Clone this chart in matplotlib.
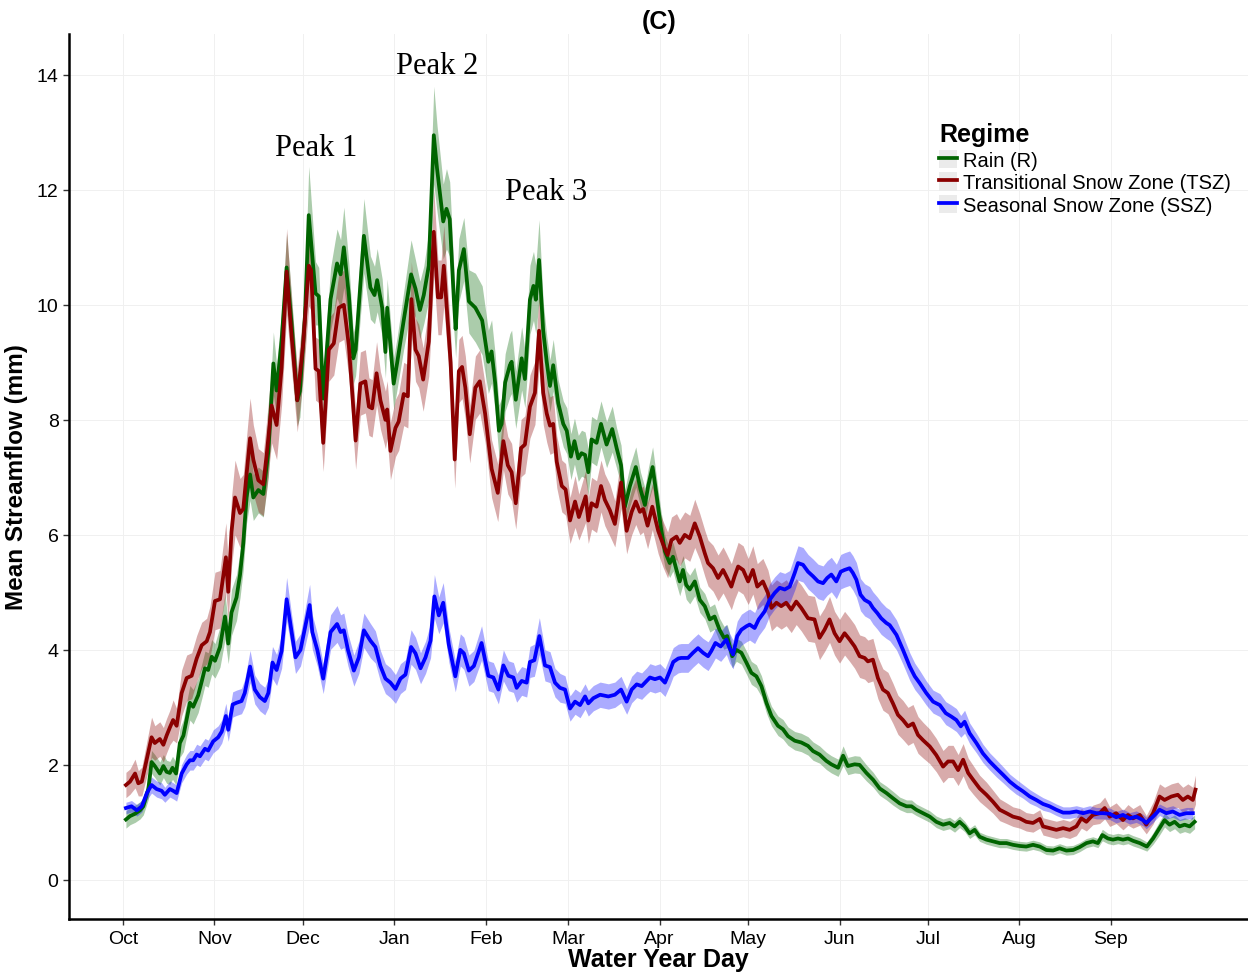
import numpy as np
import matplotlib
matplotlib.use("Agg")
import matplotlib.pyplot as plt
from matplotlib.lines import Line2D
from matplotlib.patches import Patch

plt.rcParams['font.family'] = ['Liberation Sans', 'DejaVu Sans']

# ---------------- data ----------------
month_labels = ["Oct", "Nov", "Dec", "Jan", "Feb", "Mar", "Apr", "May", "Jun", "Jul", "Aug", "Sep"]
month_days = [1, 32, 62, 93, 124, 152, 183, 213, 244, 274, 305, 336]
y_ticks = [0, 2, 4, 6, 8, 10, 12, 14]

# Rain (R)
r_day = [2.0, 3.4, 5.1, 6.8, 7.9, 9.6, 10.7, 11.8, 13.5, 14.7, 15.8, 16.9, 17.8, 19.0, 20.3, 21.5, 22.8, 23.7, 24.8, 26.5,
         27.7, 28.8, 29.9, 31.1, 32.2, 33.9, 35.6, 36.7, 37.8, 39.5, 40.7, 41.8, 42.9, 44.1, 45.2, 46.9, 48.6, 50.3, 52.0, 53.1,
         54.8, 56.5, 58.2, 60.1, 61.0, 62.7, 64.0, 66.3, 67.4, 68.9, 71.4, 73.6, 74.8, 75.9, 77.6, 79.1, 79.9, 82.7, 84.9, 86.3,
         87.2, 88.9, 90.0, 90.6, 91.7, 92.8, 94.0, 96.2, 98.7, 100.2, 101.7, 103.0, 104.7, 106.4, 107.5, 109.6, 110.7, 111.8, 113.2, 113.8,
         114.9, 116.6, 118.3, 120.5, 122.8, 124.9, 126.0, 127.2, 128.5, 129.4, 130.6, 132.2, 132.8, 134.2, 136.2, 137.3, 139.0, 140.2, 141.0, 142.1,
         143.5, 144.7, 145.8, 146.9, 148.6, 150.3, 151.5, 152.9, 154.1, 155.4, 156.5, 157.7, 158.8, 159.9, 161.6, 163.1, 165.0, 166.9, 168.4, 169.9,
         171.2, 172.9, 174.9, 176.5, 178.0, 179.1, 180.6, 182.0, 183.4, 184.8, 186.4, 187.5, 188.7, 189.8, 190.9, 192.0, 193.2, 194.9, 196.6, 198.3,
         200.0, 201.6, 203.3, 204.8, 205.9, 207.6, 209.0, 210.7, 212.4, 214.1, 215.8, 217.5, 219.2, 220.9, 223.1, 224.8, 226.5, 228.8, 231.0, 233.3,
         235.0, 237.2, 239.5, 241.2, 243.5, 245.2, 246.8, 249.1, 250.8, 253.1, 255.4, 257.6, 259.9, 262.1, 264.4, 266.7, 268.4, 270.0, 272.3, 274.6,
         276.8, 279.1, 281.3, 283.0, 284.7, 286.4, 288.1, 289.8, 291.5, 293.8, 296.0, 298.3, 300.6, 302.8, 305.1, 307.3, 309.6, 311.9, 314.1, 316.4,
         318.6, 320.9, 323.2, 325.4, 327.7, 329.9, 331.6, 333.1, 335.0, 336.7, 338.4, 340.1, 341.8, 343.5, 345.8, 348.2, 350.3, 352.5, 354.2, 355.9,
         357.6, 359.3, 361.0, 362.7, 364.4]
r_val = [1.05, 1.11, 1.15, 1.21, 1.28, 1.58, 2.05, 1.98, 1.85, 1.98, 1.88, 1.86, 1.95, 1.85, 2.38, 2.51, 2.85, 3.08, 3.01, 3.21,
         3.45, 3.68, 3.65, 3.88, 3.81, 4.05, 4.58, 4.11, 4.65, 4.91, 5.31, 5.85, 6.65, 7.05, 6.65, 6.78, 6.71, 7.45, 8.98, 8.51,
         9.38, 10.65, 9.65, 8.34, 8.5, 9.8, 11.56, 10.2, 10.15, 8.37, 10.1, 10.72, 10.53, 11.0, 10.17, 9.07, 9.22, 11.2, 10.3, 10.17,
         10.43, 9.95, 9.18, 9.95, 9.29, 8.63, 9.0, 9.73, 10.53, 10.28, 9.91, 10.17, 10.68, 12.95, 12.37, 11.45, 11.67, 11.49, 10.1, 9.58,
         10.6, 10.97, 10.06, 9.95, 9.73, 9.01, 9.19, 8.65, 7.81, 7.93, 8.65, 8.95, 9.01, 8.35, 9.07, 8.71, 10.09, 10.33, 10.09, 10.78,
         9.55, 9.01, 8.59, 8.95, 8.29, 7.93, 7.81, 7.36, 7.63, 7.33, 7.42, 7.39, 7.09, 7.66, 7.6, 7.93, 7.57, 7.84, 7.51, 7.21,
         6.49, 6.85, 7.18, 6.79, 6.52, 6.85, 7.18, 6.67, 6.13, 5.71, 5.51, 5.62, 5.39, 5.19, 5.39, 5.13, 5.05, 5.19, 4.87, 4.76,
         4.53, 4.58, 4.35, 4.21, 4.24, 3.89, 4.0, 3.95, 3.78, 3.6, 3.54, 3.37, 3.08, 2.85, 2.68, 2.62, 2.5, 2.42, 2.39, 2.33,
         2.24, 2.18, 2.07, 2.01, 1.95, 2.16, 1.98, 2.01, 2.0, 1.86, 1.74, 1.59, 1.51, 1.42, 1.33, 1.28, 1.28, 1.22, 1.16, 1.10,
         1.01, 0.96, 0.99, 0.93, 1.01, 0.93, 0.81, 0.87, 0.75, 0.70, 0.67, 0.64, 0.64, 0.61, 0.59, 0.58, 0.61, 0.58, 0.52, 0.51,
         0.55, 0.51, 0.52, 0.57, 0.64, 0.67, 0.64, 0.78, 0.72, 0.70, 0.72, 0.70, 0.72, 0.68, 0.64, 0.58, 0.72, 0.90, 1.04, 0.96,
         1.01, 0.93, 0.96, 0.93, 1.01]
r_half = [.15, .15, .15, .15, .15, .18, .2, .2, .2, .2, .2, .2, .2, .2, .25, .28, .3, .3, .3, .3,
          .3, .3, .3, .3, .3, .35, .4, .35, .4, .4, .4, .45, .45, .45, .4, .4, .4, .45, .55, .45,
          .5, .6, .5, .45, .45, .55, .85, .55, .5, .45, .55, .6, .6, .7, .55, .45, .45, .65, .55, .5,
          .55, .5, .45, .5, .45, .45, .45, .5, .6, .5, .5, .5, .6, .85, .75, .65, .7, .65, .55, .5,
          .55, .55, .55, .6, .6, .55, .55, .5, .45, .45, .5, .55, .55, .5, .55, .5, .6, .6, .6, .7,
          .5, .45, .45, .45, .4, .4, .4, .4, .4, .4, .4, .4, .4, .4, .4, .4, .4, .4, .35, .35,
          .3, .35, .35, .3, .3, .3, .35, .3, .3, .28, .25, .25, .25, .25, .25, .25, .25, .25, .22, .22,
          .22, .22, .2, .2, .2, .2, .2, .2, .2, .2, .2, .18, .18, .17, .17, .17, .16, .16, .16, .16,
          .16, .15, .15, .15, .15, .17, .15, .15, .15, .14, .13, .12, .12, .12, .11, .11, .11, .1, .1, .1,
          .1, .1, .1, .1, .1, .09, .09, .09, .08, .08, .08, .08, .08, .08, .08, .08, .08, .08, .08, .08,
          .08, .08, .08, .08, .08, .08, .08, .1, .09, .09, .09, .09, .09, .09, .09, .08, .1, .12, .12, .12,
          .12, .12, .12, .12, .12]

# Transitional Snow Zone (TSZ)
t_day = [2.0, 3.4, 5.1, 6.2, 7.4, 9.1, 10.7, 11.8, 13.5, 14.7, 15.8, 16.9, 18.0, 19.2, 20.9, 22.6, 24.3, 26.0, 27.7, 29.4,
         30.5, 32.2, 33.9, 35.9, 36.7, 37.8, 39.0, 40.7, 41.8, 42.9, 44.1, 45.2, 46.9, 48.6, 49.7, 51.4, 53.1, 54.8, 56.5, 58.2,
         60.1, 62.1, 64.0, 64.8, 66.3, 67.4, 68.9, 70.8, 72.5, 74.2, 75.9, 77.6, 79.9, 81.5, 83.2, 84.4, 85.5, 87.0, 88.3, 90.0,
         90.6, 91.7, 93.4, 94.5, 96.2, 97.6, 98.8, 100.2, 101.3, 102.8, 104.7, 106.4, 107.8, 108.9, 109.8, 112.1, 113.5, 114.9, 116.0, 117.1,
         118.6, 120.5, 122.0, 123.8, 126.0, 128.1, 130.0, 131.5, 132.8, 134.2, 136.0, 137.3, 139.0, 140.7, 142.1, 143.5, 144.7, 145.8, 146.9, 148.1,
         149.8, 151.1, 152.6, 154.3, 155.6, 157.9, 158.8, 159.9, 161.6, 163.1, 164.4, 166.1, 167.8, 169.9, 171.8, 173.5, 174.9, 176.3, 177.4, 178.9,
         180.5, 182.5, 184.2, 185.7, 187.0, 188.7, 189.8, 191.5, 193.2, 194.9, 196.6, 198.3, 199.4, 201.1, 202.8, 204.5, 205.6, 207.3, 208.4, 209.6,
         211.3, 213.0, 214.6, 216.1, 218.0, 219.7, 220.9, 222.6, 224.2, 225.9, 227.6, 229.3, 231.0, 233.3, 235.5, 237.2, 238.9, 240.6, 242.3, 244.0,
         245.7, 247.4, 249.1, 250.8, 252.5, 253.6, 255.3, 257.0, 258.7, 260.4, 262.1, 263.8, 265.5, 267.2, 268.9, 270.6, 272.3, 274.6, 276.8, 279.1,
         280.8, 282.5, 284.2, 285.9, 287.6, 289.3, 291.5, 293.8, 296.0, 298.3, 300.6, 302.8, 305.1, 307.3, 309.6, 311.9, 313.0, 315.2, 317.5, 319.8,
         322.0, 324.3, 326.0, 327.7, 329.9, 332.2, 333.9, 335.6, 337.8, 340.1, 341.8, 343.5, 345.8, 348.0, 350.3, 352.5, 354.2, 356.5, 358.7, 360.4,
         362.1, 363.8, 364.7]
t_val = [1.65, 1.71, 1.85, 1.68, 1.71, 2.11, 2.48, 2.38, 2.45, 2.35, 2.51, 2.65, 2.78, 2.68, 3.25, 3.51, 3.55, 3.85, 4.08, 4.15,
         4.31, 4.85, 4.88, 5.61, 5.01, 6.05, 6.65, 6.38, 6.45, 7.05, 7.68, 7.31, 6.95, 6.88, 7.38, 8.25, 7.91, 8.91, 10.58, 9.45,
         8.34, 9.31, 10.68, 10.6, 8.89, 8.85, 7.6, 9.22, 9.33, 9.95, 10.0, 9.29, 7.64, 8.63, 8.67, 8.23, 8.2, 8.81, 8.34, 8.0,
         8.18, 7.46, 7.86, 7.97, 8.45, 8.41, 10.1, 9.22, 9.11, 8.70, 9.36, 11.27, 10.13, 10.13, 10.68, 9.0, 7.31, 8.85, 8.92, 8.56,
         7.75, 8.56, 8.67, 8.11, 7.15, 6.73, 7.63, 7.21, 7.09, 6.55, 7.51, 7.57, 8.23, 8.47, 9.55, 8.47, 8.11, 7.9, 7.93, 7.27,
         6.85, 6.79, 6.25, 6.58, 6.31, 6.67, 6.25, 6.55, 6.49, 6.85, 6.61, 6.43, 6.19, 6.91, 6.07, 6.4, 6.58, 6.4, 6.45, 6.16,
         6.49, 6.07, 5.83, 5.65, 5.91, 5.97, 5.86, 6.0, 5.94, 6.2, 5.97, 5.68, 5.51, 5.42, 5.25, 5.39, 5.28, 5.1, 5.28, 5.45,
         5.39, 5.19, 5.39, 5.1, 5.19, 4.99, 4.73, 4.82, 4.76, 4.82, 4.7, 4.84, 4.73, 4.55, 4.53, 4.21, 4.35, 4.53, 4.29, 4.15,
         4.29, 4.18, 4.06, 3.89, 3.86, 3.8, 3.83, 3.51, 3.31, 3.25, 3.07, 2.87, 2.78, 2.67, 2.72, 2.52, 2.43, 2.32, 2.17, 1.97,
         2.06, 2.06, 1.91, 2.09, 1.86, 1.74, 1.59, 1.48, 1.36, 1.22, 1.16, 1.10, 1.07, 1.01, 0.99, 1.06, 0.93, 0.90, 0.87, 0.90,
         0.87, 0.93, 1.07, 1.01, 1.13, 1.16, 1.25, 1.10, 1.16, 1.04, 1.13, 1.07, 1.13, 0.96, 1.16, 1.45, 1.39, 1.45, 1.48, 1.39,
         1.45, 1.39, 1.57]
t_half = [.22, .22, .25, .22, .25, .3, .35, .3, .3, .3, .3, .3, .35, .3, .4, .4, .4, .4, .4, .4,
          .45, .5, .5, .6, .5, .6, .65, .6, .6, .65, .7, .6, .55, .55, .6, .65, .6, .65, .75, .6,
          .55, .6, .7, .7, .55, .55, .5, .55, .55, .6, .6, .55, .5, .55, .55, .5, .5, .55, .5, .5,
          .5, .5, .5, .5, .55, .55, .65, .55, .55, .55, .6, .75, .65, .65, .7, .55, .5, .55, .55, .55,
          .5, .55, .55, .5, .5, .5, .5, .5, .5, .45, .5, .5, .55, .55, .65, .55, .5, .5, .5, .45,
          .45, .45, .4, .45, .4, .45, .4, .45, .45, .45, .45, .45, .4, .45, .4, .4, .4, .4, .4, .4,
          .4, .4, .4, .4, .4, .4, .4, .4, .4, .42, .4, .4, .4, .4, .4, .4, .4, .4, .4, .42,
          .42, .4, .42, .4, .4, .4, .4, .4, .4, .4, .4, .4, .4, .4, .4, .38, .38, .4, .38, .38,
          .38, .38, .38, .37, .37, .37, .37, .36, .36, .36, .35, .34, .34, .33, .33, .32, .31, .3, .29, .28,
          .28, .28, .27, .28, .26, .25, .23, .22, .2, .19, .18, .17, .17, .16, .16, .16, .15, .15, .15, .15,
          .15, .16, .17, .16, .17, .18, .19, .17, .18, .17, .18, .17, .18, .16, .19, .22, .22, .22, .22, .22,
          .22, .22, .25]

# Seasonal Snow Zone (SSZ)
s_day = [2.0, 3.9, 5.7, 7.4, 9.1, 10.7, 12.4, 14.1, 15.2, 16.9, 18.0, 19.2, 20.9, 22.6, 23.7, 24.8, 26.0, 27.1, 28.8, 29.9,
         31.6, 33.3, 34.5, 35.9, 36.7, 38.2, 39.5, 41.2, 42.3, 44.1, 45.7, 47.4, 49.1, 50.3, 51.7, 53.1, 54.8, 56.5, 58.2, 59.5,
         61.2, 64.3, 65.2, 66.9, 68.9, 71.4, 73.6, 74.8, 75.9, 77.3, 79.3, 81.0, 82.7, 84.9, 86.6, 88.3, 90.0, 91.7, 93.4, 95.1,
         96.8, 98.7, 100.2, 101.9, 103.6, 105.3, 106.6, 108.1, 109.6, 111.5, 113.7, 115.4, 116.6, 118.3, 120.0, 122.6, 124.9, 126.6, 128.3, 130.0,
         131.7, 133.4, 134.5, 136.2, 137.9, 139.0, 140.5, 142.2, 144.1, 145.8, 147.5, 149.2, 150.9, 152.6, 154.3, 156.0, 157.7, 158.8, 160.5, 162.8,
         165.6, 167.8, 169.9, 171.8, 173.5, 175.2, 176.9, 178.6, 179.7, 181.4, 183.1, 184.8, 186.5, 187.6, 189.3, 190.3, 192.6, 194.3, 196.0, 197.7,
         199.4, 200.5, 201.9, 203.7, 205.6, 206.7, 207.9, 209.3, 210.7, 212.4, 213.5, 215.2, 216.6, 218.6, 220.3, 222.0, 223.7, 225.4, 227.1, 228.8,
         229.9, 231.6, 233.3, 235.0, 236.7, 238.4, 239.8, 241.2, 242.9, 244.4, 245.7, 247.4, 248.5, 249.7, 251.1, 252.5, 254.2, 255.3, 256.8, 258.1,
         259.8, 261.0, 263.3, 265.5, 267.8, 269.5, 271.2, 273.4, 275.7, 278.0, 280.0, 281.9, 283.6, 285.1, 286.4, 288.1, 290.4, 292.6, 294.9, 297.2,
         299.4, 301.7, 303.9, 306.2, 308.5, 310.7, 313.0, 315.2, 317.5, 319.8, 322.0, 324.3, 326.6, 328.8, 331.1, 333.4, 335.6, 337.8, 340.1, 342.4,
         344.6, 346.9, 348.0, 350.3, 352.5, 354.8, 357.0, 359.3, 361.6, 363.8]
s_val = [1.25, 1.28, 1.21, 1.28, 1.51, 1.65, 1.58, 1.55, 1.48, 1.58, 1.55, 1.51, 1.85, 2.01, 2.08, 2.08, 2.18, 2.15, 2.28, 2.25,
         2.41, 2.48, 2.58, 2.85, 2.61, 3.05, 3.08, 3.11, 3.25, 3.71, 3.31, 3.18, 3.11, 3.25, 3.78, 3.65, 3.98, 4.88, 4.31, 3.87,
         4.0, 4.78, 4.31, 4.0, 3.5, 4.31, 4.45, 4.31, 4.34, 4.0, 3.64, 3.87, 4.34, 4.16, 4.05, 3.72, 3.5, 3.43, 3.32, 3.5,
         3.57, 4.05, 3.94, 3.68, 3.87, 4.16, 4.93, 4.6, 4.82, 4.09, 3.54, 4.0, 3.94, 3.64, 3.72, 4.12, 3.55, 3.52, 3.31, 3.73,
         3.55, 3.52, 3.34, 3.46, 3.43, 3.79, 3.82, 4.24, 3.73, 3.7, 3.43, 3.34, 3.31, 2.98, 3.1, 3.04, 3.19, 3.07, 3.16, 3.22,
         3.19, 3.22, 3.31, 3.1, 3.31, 3.4, 3.37, 3.46, 3.52, 3.49, 3.52, 3.43, 3.64, 3.79, 3.85, 3.86, 3.86, 3.95, 4.03, 3.95,
         3.89, 3.98, 4.12, 4.06, 4.18, 4.03, 3.92, 4.24, 4.35, 4.41, 4.44, 4.38, 4.53, 4.67, 4.87, 4.99, 5.08, 5.05, 5.10, 5.34,
         5.51, 5.48, 5.36, 5.28, 5.19, 5.16, 5.25, 5.31, 5.19, 5.36, 5.39, 5.42, 5.34, 5.22, 4.96, 4.87, 4.82, 4.73, 4.64, 4.55,
         4.47, 4.43, 4.26, 4.0, 3.71, 3.54, 3.42, 3.25, 3.10, 3.04, 2.90, 2.84, 2.78, 2.67, 2.75, 2.55, 2.38, 2.20, 2.06, 1.94,
         1.83, 1.71, 1.62, 1.54, 1.45, 1.39, 1.32, 1.28, 1.22, 1.17, 1.17, 1.19, 1.16, 1.19, 1.16, 1.16, 1.15, 1.09, 1.13, 1.07,
         1.10, 1.04, 0.99, 1.10, 1.22, 1.16, 1.19, 1.13, 1.16, 1.16]
s_half = [.1, .1, .1, .1, .12, .14, .14, .14, .13, .14, .14, .14, .16, .17, .17, .17, .18, .18, .18, .18,
          .2, .2, .2, .22, .2, .22, .22, .22, .24, .28, .25, .24, .24, .25, .28, .27, .3, .38, .3, .28,
          .28, .36, .3, .28, .26, .3, .32, .3, .3, .28, .27, .28, .3, .3, .28, .27, .26, .26, .25, .26,
          .26, .3, .28, .27, .28, .3, .38, .32, .35, .3, .27, .28, .28, .27, .27, .3, .26, .26, .25, .27,
          .26, .26, .25, .25, .25, .27, .28, .32, .27, .27, .25, .25, .24, .22, .22, .22, .22, .22, .22, .22,
          .22, .22, .23, .22, .23, .23, .23, .23, .24, .24, .24, .24, .25, .25, .25, .25, .25, .25, .25, .25,
          .25, .25, .26, .26, .26, .26, .25, .26, .27, .27, .27, .27, .28, .28, .28, .28, .28, .28, .28, .3,
          .3, .3, .3, .3, .3, .3, .3, .3, .3, .3, .3, .3, .3, .3, .28, .28, .28, .28, .28, .28,
          .27, .27, .26, .25, .24, .23, .22, .21, .2, .2, .2, .2, .2, .19, .2, .18, .17, .16, .15, .15,
          .14, .13, .13, .12, .12, .11, .11, .1, .1, .1, .1, .1, .1, .1, .1, .1, .1, .1, .1, .1,
          .1, .1, .1, .1, .1, .1, .1, .1, .1, .1]

series = [
    ("Rain (R)", r_day, r_val, r_half, "#006400"),
    ("Transitional Snow Zone (TSZ)", t_day, t_val, t_half, "#8B0000"),
    ("Seasonal Snow Zone (SSZ)", s_day, s_val, s_half, "#0000FF"),
]

# ---------------- figure ----------------
fig = plt.figure(figsize=(12.48, 9.79), dpi=100)
ax = fig.add_axes([69 / 1248, 1 - 920 / 979, (1248 - 69) / 1248, (920 - 35) / 979])

for name, d, v, h, c in series:
    d = np.asarray(d); v = np.asarray(v); h = np.asarray(h)
    ax.fill_between(d, v - h, v + h, color=c, alpha=0.33, linewidth=0, zorder=2)
for name, d, v, h, c in series:
    ax.plot(d, v, color=c, lw=2.7, solid_joinstyle='round', zorder=3)

ax.set_xlim(-17.3, 382.5)
ax.set_ylim(-0.68, 14.71)
ax.set_xticks(month_days)
ax.set_xticklabels(month_labels)
ax.set_yticks(y_ticks)
ax.tick_params(axis='both', labelsize=14, length=4, width=1, color='#333333', labelcolor='black')
ax.tick_params(axis='x', pad=4)
ax.grid(True, color='#F0F0F0', lw=0.7, zorder=0)
ax.set_axisbelow(True)
for s in ['top', 'right']:
    ax.spines[s].set_visible(False)
for s in ['left', 'bottom']:
    ax.spines[s].set_linewidth(1.8)
    ax.spines[s].set_color('black')

ax.set_xlabel("Water Year Day", fontsize=18, fontweight='bold', labelpad=0)
ax.set_ylabel("Mean Streamflow (mm)", fontsize=17.5, fontweight='bold', labelpad=6)
fig.text(659 / 1248, 1 - 22 / 979, "(C)", ha='center', va='center', fontsize=18, fontweight='bold')

# peak annotations
peak_labels = ["Peak 1", "Peak 2", "Peak 3"]
peak_pos_day = [66.4, 107.5, 144.4]
peak_pos_val = [12.73, 14.16, 11.97]
for lab, px, py in zip(peak_labels, peak_pos_day, peak_pos_val):
    ax.text(px, py, lab, ha='center', va='center', fontsize=22,
            family=['Liberation Serif', 'DejaVu Serif'], zorder=5)

# legend
handles = [(Patch(facecolor='#EBEBEB', edgecolor='none'), Line2D([], [], color=c, lw=2.7))
           for _, _, _, _, c in series]
labels = [n for n, _, _, _, _ in series]
leg = fig.legend(handles, labels, loc='upper left', bbox_to_anchor=(939 / 1248, 1 - 123 / 979),
                 frameon=False, fontsize=14.5, title="Regime",
                 title_fontproperties={'weight': 'bold', 'size': 18},
                 handlelength=0.9, handleheight=1.0, handletextpad=0.3, labelspacing=0.12,
                 borderpad=0.0, borderaxespad=0.0, alignment='left')
leg._legend_box.sep = 3

fig.savefig("out.png", dpi=100)
